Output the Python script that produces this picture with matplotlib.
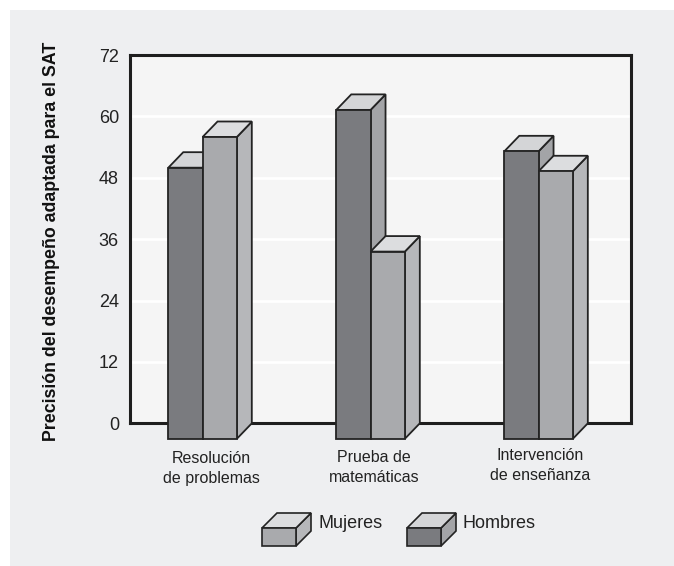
import matplotlib
matplotlib.use("Agg")
import matplotlib.pyplot as plt
from matplotlib.patches import Polygon, Rectangle

plt.rcParams['font.family'] = ['Liberation Sans', 'DejaVu Sans']

categories = ["Resolución\nde problemas", "Prueba de\nmatemáticas", "Intervención\nde enseñanza"]
hombres = [53, 64.3, 56.2]
mujeres = [59, 36.6, 52.3]
y_ticks = [0, 12, 24, 36, 48, 60, 72]
y_label = "Precisión del desempeño adaptada para el SAT"
series_names = ["Mujeres", "Hombres"]

W, H = 674, 566
fig = plt.figure(figsize=(W / 100, H / 100), dpi=100)
fig.patch.set_facecolor("white")

# grey panel behind everything
fig.add_artist(Rectangle((10 / W, 0), 1 - 10 / W, 1 - 10 / H, transform=fig.transFigure,
                         facecolor="#eeeff1", edgecolor="none", zorder=0))

ax_l, ax_r, ax_t, ax_b = 130, 631, 55, 423.3
ax = fig.add_axes([ax_l / W, 1 - ax_b / H, (ax_r - ax_l) / W, (ax_b - ax_t) / H])
ax.set_facecolor("#f5f5f5")
ax.set_xlim(-0.432, 2.55)
ax.set_ylim(0, 72)
ax.set_yticks(y_ticks)
ax.set_yticklabels([str(t) for t in y_ticks], fontsize=13, color="#222222")
ax.tick_params(axis="y", length=0, pad=8)
ax.set_xticks([])
for s in ax.spines.values():
    s.set_linewidth(2.2)
    s.set_color("#1e1e1e")
    s.set_zorder(2.5)
for t in y_ticks[1:-1]:
    ax.axhline(t, color="white", lw=2, zorder=1)

ax.set_ylabel(y_label, fontsize=12.8, fontweight="bold", color="#111111")
ax.yaxis.set_label_coords(-0.14, 0.495)

# 3D bar geometry
bw = 0.204          # bar width in x data units
dx = 0.089          # depth offset, x
dy = 3.03           # depth offset, y
edge = "#232323"
lw = 1.3

styles = {
    "Hombres": dict(front="#7a7b7f", side="#a3a4a7", top="#d4d5d7"),
    "Mujeres": dict(front="#a9aaad", side="#b6b7ba", top="#dcdddf"),
}


def bar3d(left, value, st):
    r = left + bw
    front = Polygon([(left, -dy), (r, -dy), (r, value - dy), (left, value - dy)], closed=True)
    side = Polygon([(r, -dy), (r + dx, 0), (r + dx, value), (r, value - dy)], closed=True)
    top = Polygon([(left, value - dy), (r, value - dy), (r + dx, value), (left + dx, value)], closed=True)
    for p, c in ((side, st["side"]), (top, st["top"]), (front, st["front"])):
        p.set_facecolor(c)
        p.set_edgecolor(edge)
        p.set_linewidth(lw)
        p.set_joinstyle("miter")
        p.set_clip_on(False)
        p.set_zorder(3)
        ax.add_patch(p)


label_dx = [0.05, 0.02, 0.01]
label_y = [-5.5, -5.2, -4.8]
for i, cat in enumerate(categories):
    bar3d(i - bw, hombres[i], styles["Hombres"])
    bar3d(i, mujeres[i], styles["Mujeres"])
    ax.text(i + label_dx[i], label_y[i], cat, ha="center", va="top", fontsize=11.5, color="#222222",
            linespacing=1.4, clip_on=False)

# legend with small 3D boxes, drawn in pixel space
lax = fig.add_axes([0, 0, 1, 1], facecolor="none")
lax.set_xlim(0, W)
lax.set_ylim(H, 0)
lax.axis("off")
for name, x0, tx in (("Mujeres", 262, 318), ("Hombres", 407, 463)):
    st = styles[name]
    bx, by, bwp, bhp, d = x0, 528, 34, 18, 15
    side = Polygon([(bx + bwp, by + bhp), (bx + bwp + d, by + bhp - d), (bx + bwp + d, by - d), (bx + bwp, by)])
    top = Polygon([(bx, by), (bx + bwp, by), (bx + bwp + d, by - d), (bx + d, by - d)])
    front = Polygon([(bx, by), (bx + bwp, by), (bx + bwp, by + bhp), (bx, by + bhp)])
    for p, c in ((side, st["side"]), (top, st["top"]), (front, st["front"])):
        p.set_facecolor(c)
        p.set_edgecolor(edge)
        p.set_linewidth(1.2)
        lax.add_patch(p)
    lax.text(tx, 524, name, ha="left", va="center", fontsize=13, color="#222222")

fig.savefig("out.png", dpi=100)
